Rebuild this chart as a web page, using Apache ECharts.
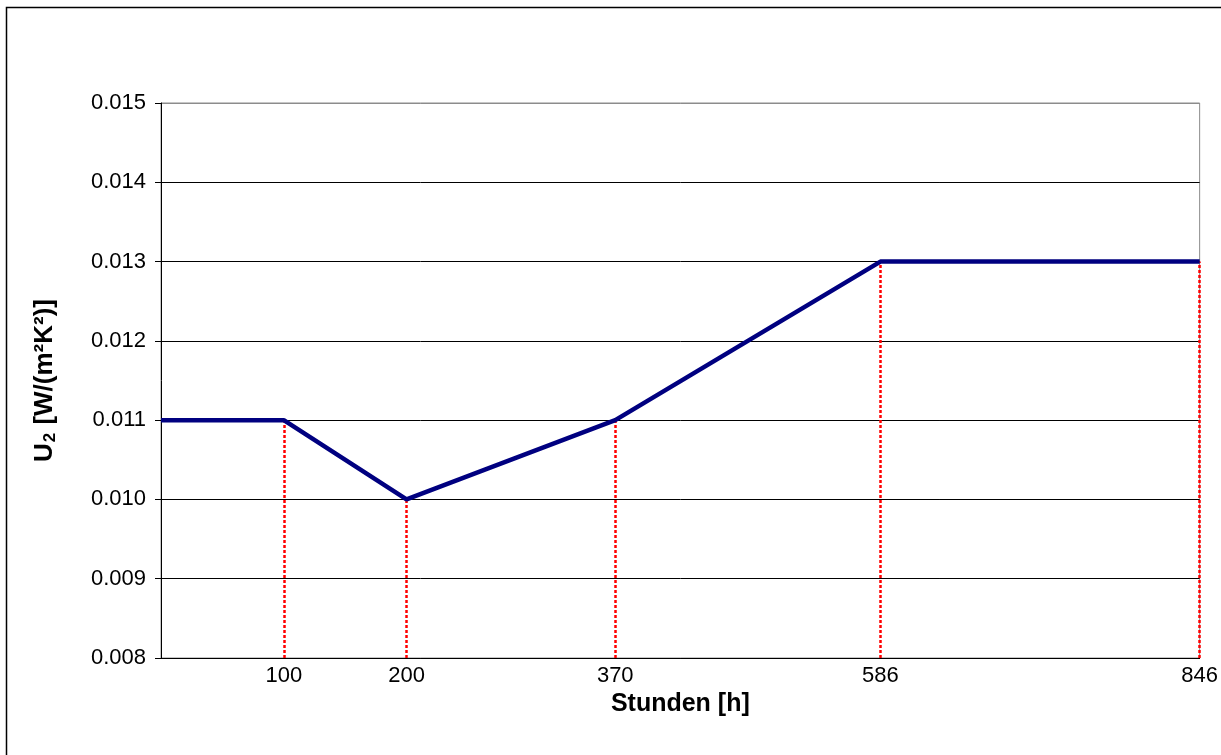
<!DOCTYPE html>
<html>
<head>
<meta charset="utf-8">
<title>U2 Stunden</title>
<script src="https://cdn.jsdelivr.net/npm/echarts@6/dist/echarts.min.js"></script>
<style>
    html, body { margin: 0; padding: 0; background: #fff; }
    #main { width: 1221px; height: 755px; }
</style>
</head>
<body>
<div id="main"></div>
<script>
// Messpunkte: Stunden und U2-Wert
const stunden = [0, 100, 200, 370, 586, 846];
const u2Werte = [0.011, 0.011, 0.010, 0.011, 0.013, 0.013];
// beschriftete Stunden auf der x-Achse (mit roten Hilfslinien)
const xLabels = [100, 200, 370, 586, 846];
const yMin = 0.008;
const yMax = 0.015;

const fontName = '"Liberation Sans", Arial, sans-serif';

// Linie aus den Arrays
const lineData = stunden.map(function(h, i) {
    return [h, u2Werte[i]];
});

// rote punktierte Linien von der Achse bis zum Wert
const markLines = xLabels.map(function(h) {
    const v = u2Werte[stunden.indexOf(h)];
    return [{ coord: [h, yMin] }, { coord: [h, v] }];
});

// Farben der Gitterlinien, oberste grau wie der Rahmen
const splitColors = [];
for (let i = 0; i <= 7; i++) {
    splitColors.push(i === 7 ? '#8c8c8c' : '#000');
}

const option = {
    animation: false,
    backgroundColor: '#fff',
    grid: {
        left: 161,
        top: 103,
        right: 19,
        bottom: 97,
        show: true,
        borderColor: '#8c8c8c',
        borderWidth: 1
    },
    graphic: [{
        type: 'rect',
        left: 4,
        top: 5,
        shape: { width: 1240, height: 770 },
        style: { fill: 'none', stroke: '#000', lineWidth: 1.5 },
        silent: true
    }],
    xAxis: {
        type: 'value',
        min: 0,
        max: 846,
        name: 'Stunden [h]',
        nameLocation: 'middle',
        nameGap: 32,
        nameTextStyle: {
            fontFamily: fontName,
            fontSize: 25,
            fontWeight: 'bold',
            color: '#000'
        },
        axisLine: { show: true, lineStyle: { color: '#000', width: 1 } },
        axisTick: { show: false },
        splitLine: { show: false },
        axisLabel: {
            customValues: xLabels,
            margin: 7,
            fontFamily: fontName,
            fontSize: 22,
            color: '#000'
        }
    },
    yAxis: {
        type: 'value',
        min: yMin,
        max: yMax,
        interval: 0.001,
        name: '{b|U}{s|2}{b| [W/(m²K²)]}',
        nameLocation: 'middle',
        nameGap: 102,
        nameTextStyle: {
            color: '#000',
            rich: {
                b: { fontFamily: fontName, fontSize: 26, fontWeight: 'bold', color: '#000' },
                s: { fontFamily: fontName, fontSize: 17, fontWeight: 'bold', color: '#000', padding: [12, 1, 0, 1] }
            }
        },
        axisLine: { show: true, lineStyle: { color: '#000', width: 1 } },
        axisTick: { show: true, inside: false, length: 6, lineStyle: { color: '#000' } },
        splitLine: { show: true, lineStyle: { color: splitColors, width: 1 } },
        axisLabel: {
            margin: 15,
            fontFamily: fontName,
            fontSize: 22,
            color: '#000',
            formatter: function(v) {
                return v.toFixed(3);
            }
        }
    },
    series: [{
        type: 'line',
        data: lineData,
        symbol: 'none',
        lineStyle: { color: '#000080', width: 4.5 },
        z: 3,
        markLine: {
            silent: true,
            symbol: ['none', 'none'],
            label: { show: false },
            lineStyle: { color: '#ff0000', type: [3, 2], width: 2.5 },
            data: markLines,
            z: 2
        }
    }]
};

let myChart = echarts.init(document.getElementById('main'));
myChart.setOption(option);
window.addEventListener("resize", function() {
    myChart.resize();
});
</script>
</body>
</html>
